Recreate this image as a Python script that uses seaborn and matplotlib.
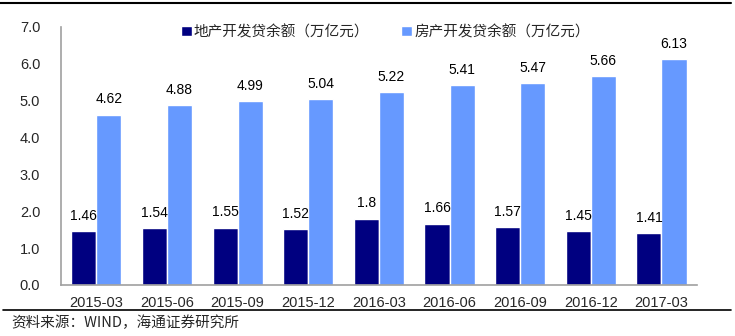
import matplotlib
matplotlib.use("Agg")
import matplotlib.pyplot as plt
import seaborn as sns
import pandas as pd
from matplotlib.lines import Line2D

categories = ["2015-03", "2015-06", "2015-09", "2015-12", "2016-03",
              "2016-06", "2016-09", "2016-12", "2017-03"]
land_dev = [1.46, 1.54, 1.55, 1.52, 1.8, 1.66, 1.57, 1.45, 1.41]
house_dev = [4.62, 4.88, 4.99, 5.04, 5.22, 5.41, 5.47, 5.66, 6.13]
series_names = ["地产开发贷余额（万亿元）", "房产开发贷余额（万亿元）"]
yticks = [0.0, 1.0, 2.0, 3.0, 4.0, 5.0, 6.0, 7.0]

df = pd.DataFrame({
    "date": categories * 2,
    "value": land_dev + house_dev,
    "series": [series_names[0]] * len(categories) + [series_names[1]] * len(categories),
})

sns.set_theme(style="white")
plt.rcParams["font.family"] = ["Liberation Sans", "Noto Sans CJK SC", "DejaVu Sans"]

fig = plt.figure(figsize=(7.35, 3.36), dpi=100)
ax = fig.add_axes([0.083, 0.152, 0.865, 0.768])

palette = ["#000080", "#6699FF"]
sns.barplot(data=df, x="date", y="value", hue="series", palette=palette,
            width=0.71, ax=ax, saturation=1, legend=True)

for cont in ax.containers:
    ax.bar_label(cont, fmt="%g", padding=6, fontsize=10, color="black")

ax.set_xlim(-0.5, 8.5)
ax.set_ylim(0, 7)
ax.set_yticks(yticks)
ax.set_yticklabels([f"{v:.1f}" for v in yticks], fontsize=10.5)
ax.tick_params(axis="y", pad=15, length=0)
ax.tick_params(axis="x", labelsize=10.5, length=0, pad=8)
ax.set_xlabel("")
ax.set_ylabel("")
for s in ["top", "right"]:
    ax.spines[s].set_visible(False)
for s in ["left", "bottom"]:
    ax.spines[s].set_color("#A0A0A0")
    ax.spines[s].set_linewidth(1.2)

leg = ax.legend(loc="center", bbox_to_anchor=(0.51, 0.98), ncol=2, frameon=False,
                fontsize=10.5, handlelength=0.75, handleheight=0.75, handletextpad=0.15,
                columnspacing=2.2, borderaxespad=0)
for t in leg.get_texts():
    t.set_family(["Noto Sans CJK SC", "DejaVu Sans"])

fig.add_artist(Line2D([0.0, 0.995], [0.991, 0.991], color="black", lw=1.5,
                      transform=fig.transFigure))
fig.add_artist(Line2D([0.004, 0.995], [0.077, 0.077], color="black", lw=1.2,
                      transform=fig.transFigure))
fig.text(0.016, 0.04, "资料来源：WIND，海通证券研究所", fontsize=10.5,
         family=["Noto Sans CJK SC", "DejaVu Sans"], va="center")

fig.savefig("out.png", dpi=100)
